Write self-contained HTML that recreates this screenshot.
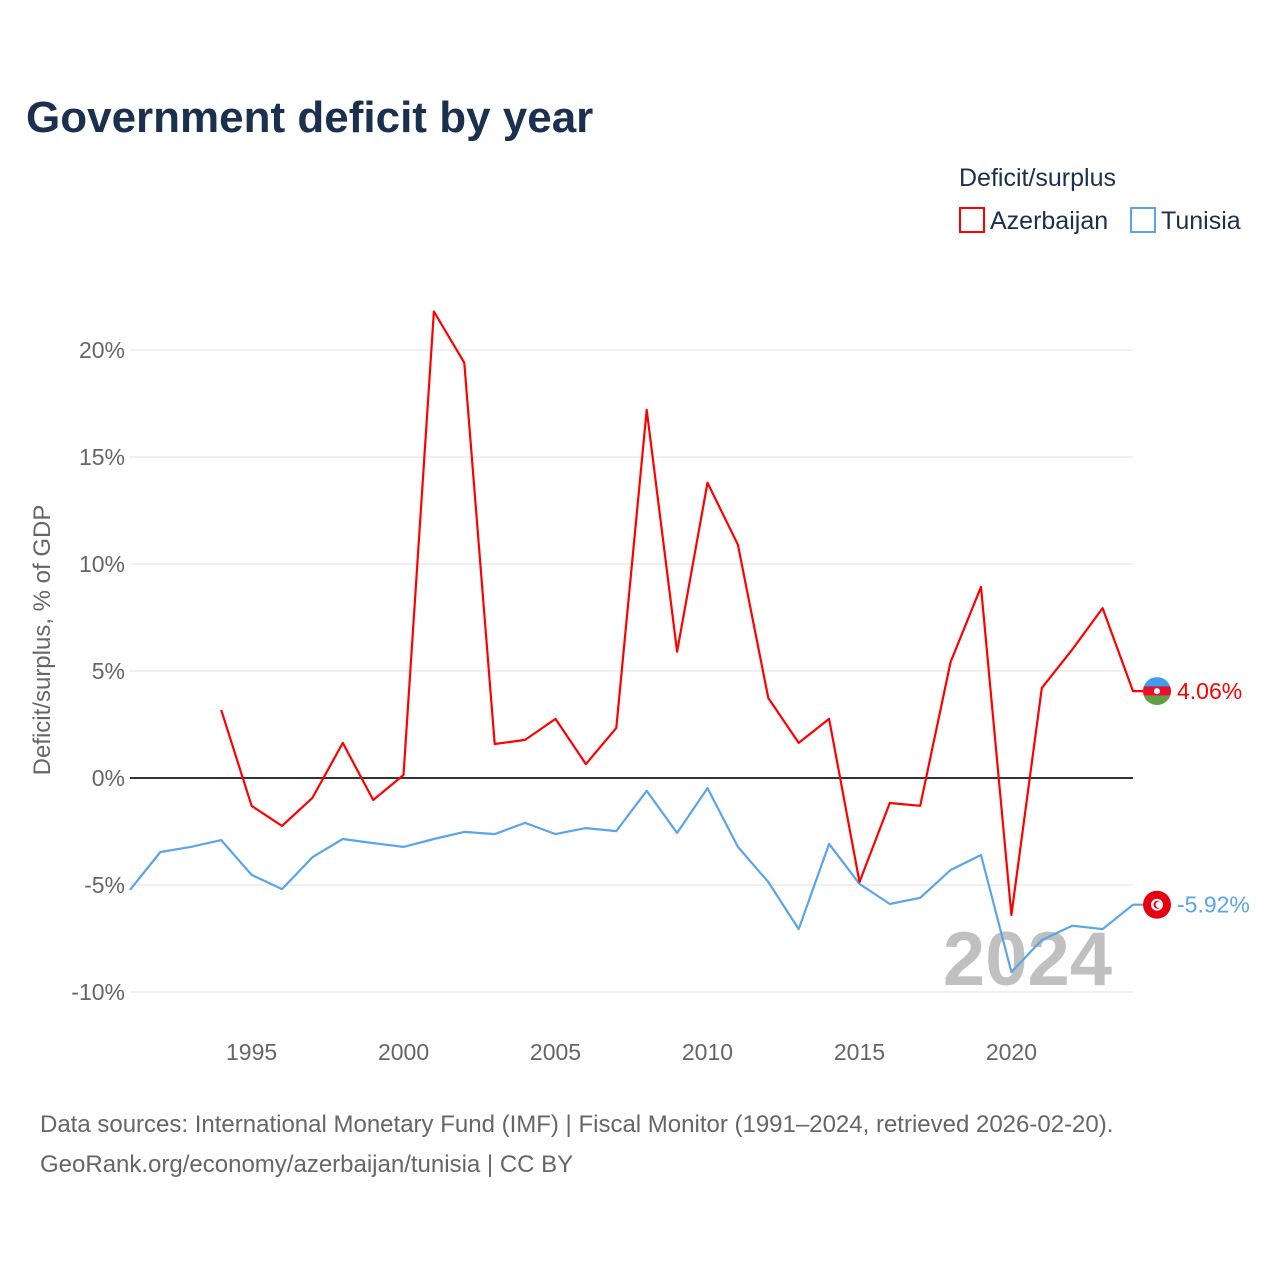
<!DOCTYPE html>
<html><head><meta charset="utf-8"><style>
html,body{margin:0;padding:0;background:#fff;}
svg{display:block;font-family:"Liberation Sans",sans-serif;}
</style></head><body>
<svg id="chart" width="1280" height="1280" viewBox="0 0 1280 1280">
<text x="26" y="132" font-size="44" font-weight="bold" fill="#1b2f4e">Government deficit by year</text>
<text x="959" y="186" font-size="25" fill="#1b2f4e">Deficit/surplus</text>
<g><rect x="960" y="208" width="24" height="24" fill="none" stroke="#ff0000" stroke-width="2"/><text x="990" y="229" font-size="25" fill="#1b2f4e">Azerbaijan</text></g>
<g><rect x="1131" y="208" width="24" height="24" fill="none" stroke="#5aa5ea" stroke-width="2"/><text x="1161" y="229" font-size="25" fill="#1b2f4e">Tunisia</text></g>
<g id="grid"></g>
<text x="1112" y="985" font-size="76" font-weight="bold" fill="#c0c0c0" text-anchor="end">2024</text>
<g id="series"></g>
<text transform="translate(50,640) rotate(-90)" font-size="24" fill="#666" text-anchor="middle">Deficit/surplus, % of GDP</text>
<text x="40" y="1132" font-size="24" fill="#666">Data sources: International Monetary Fund (IMF) | Fiscal Monitor (1991–2024, retrieved 2026-02-20).</text>
<text x="40" y="1172" font-size="24" fill="#666">GeoRank.org/economy/azerbaijan/tunisia | CC BY</text>
</svg>
<script>
const yTicks=[20,15,10,5,0,-5,-10];
const xTicks=[1995,2000,2005,2010,2015,2020];
const azeYears=[1994,1995,1996,1997,1998,1999,2000,2001,2002,2003,2004,2005,2006,2007,2008,2009,2010,2011,2012,2013,2014,2015,2016,2017,2018,2019,2020,2021,2022,2023,2024];
const azeValues=[3.18,-1.3,-2.24,-0.93,1.64,-1.03,0.14,21.8,19.4,1.59,1.78,2.76,0.65,2.34,17.2,5.9,13.8,10.9,3.74,1.64,2.76,-4.86,-1.17,-1.3,5.42,8.93,-6.4,4.2,6.0,7.94,4.06];
const tunYears=[1991,1992,1993,1994,1995,1996,1997,1998,1999,2000,2001,2002,2003,2004,2005,2006,2007,2008,2009,2010,2011,2012,2013,2014,2015,2016,2017,2018,2019,2020,2021,2022,2023,2024];
const tunValues=[-5.23,-3.46,-3.22,-2.9,-4.53,-5.19,-3.7,-2.85,-3.04,-3.22,-2.85,-2.52,-2.62,-2.1,-2.62,-2.34,-2.48,-0.6,-2.57,-0.47,-3.22,-4.86,-7.06,-3.08,-4.95,-5.89,-5.6,-4.3,-3.6,-9.07,-7.57,-6.9,-7.06,-5.92];
const NS="http://www.w3.org/2000/svg";
const X=y=>130+(y-1991)*(1003/33);
const Y=v=>778-v*21.4;
const grid=document.getElementById('grid'),series=document.getElementById('series');
function mk(tag,attrs,parent){const e=document.createElementNS(NS,tag);for(const k in attrs)e.setAttribute(k,attrs[k]);parent.appendChild(e);return e;}
yTicks.forEach(t=>{
  const l=mk('line',{x1:130,x2:1133,y1:Y(t),y2:Y(t),stroke:t===0?'#333':'#e8e8e8','stroke-width':t===0?2:1.2},grid);
  
  
  const tx=mk('text',{x:125,y:Y(t)+8,'font-size':23,fill:'#666','text-anchor':'end'},grid);
  tx.textContent=t+'%';
  
  
});
xTicks.forEach(t=>{
  const tx=mk('text',{x:X(t),y:1060,'font-size':23,fill:'#666','text-anchor':'middle'},grid);
  tx.textContent=t;
  
  
});
function line(years,vals,color,name,labelColor,flag){
  let d=years.map((y,i)=>(i?'L':'M')+X(y).toFixed(1)+','+Y(vals[i]).toFixed(1)).join(' ');
  const last=vals[vals.length-1];
  d+=' L1157,'+Y(last).toFixed(1);
  const p=mk('path',{d:d,fill:'none',stroke:color,'stroke-width':2.2,'stroke-linejoin':'round'},series);
  
  
  const g=mk('g',{},series);
  
  
  flag(g,1157,Y(last));
  const tx=mk('text',{x:1177,y:Y(last)+8,'font-size':23,fill:labelColor},series);
  tx.textContent=last.toFixed(2)+'%';
  
  
}
function azeFlag(g,cx,cy){
  const id='ac';mk('clipPath',{id:id},g);mk('circle',{cx:cx,cy:cy,r:14},g.lastChild);
  const gg=mk('g',{'clip-path':'url(#ac)'},g);
  mk('rect',{x:cx-14,y:cy-14,width:28,height:10,fill:'#3f9cf0'},gg);
  mk('rect',{x:cx-14,y:cy-4.7,width:28,height:9.4,fill:'#e8112d'},gg);
  mk('rect',{x:cx-14,y:cy+4.7,width:28,height:10,fill:'#5fa043'},gg);
  mk('circle',{cx:cx,cy:cy,r:3,fill:'#fff'},gg);
}
function tunFlag(g,cx,cy){
  mk('circle',{cx:cx,cy:cy,r:14,fill:'#e70013'},g);
  mk('circle',{cx:cx,cy:cy,r:6,fill:'#fff'},g);
  mk('circle',{cx:cx+0.5,cy:cy,r:4,fill:'#e70013'},g);
  mk('circle',{cx:cx+1.8,cy:cy,r:3.2,fill:'#fff'},g);
}
line(tunYears,tunValues,'#5aa5ea','tunisia','#5aa5ea',tunFlag);
line(azeYears,azeValues,'#ff0000','azerbaijan','#ff0000',azeFlag);
</script>
</body></html>
